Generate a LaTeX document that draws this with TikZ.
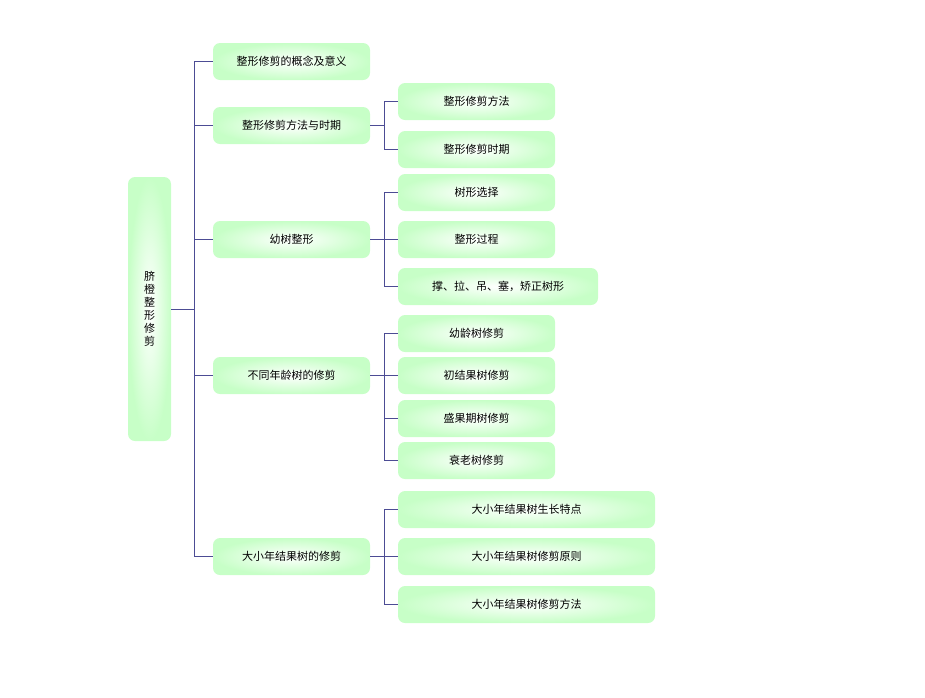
\documentclass[tikz,border=0pt]{standalone}
\usepackage{fontspec}
\setmainfont{Noto Sans CJK SC}
\begin{document}
\begin{tikzpicture}[x=1pt,y=-1pt,
  bx/.style={rounded corners=7pt,inner color=white,outer color=green!22,draw=none,font=\fontsize{11}{13}\selectfont},
  ln/.style={draw=blue!40!black!70,line width=0.6pt}]
\useasboundingbox (0,0) rectangle (925,697);
\newcommand\bx[6]{\shade[bx] (#2,#3) rectangle (#4,#5); \node[font=\fontsize{11}{13}\selectfont,align=center] (#1) at ({(#2+#4)/2},{(#3+#5)/2}) {#6};
 \coordinate (#1l) at (#2,{(#3+#5)/2}); \coordinate (#1r) at (#4,{(#3+#5)/2});}
\bx{r}{128}{177}{171}{441}{脐\\橙\\整\\形\\修\\剪}
\bx{a}{213}{43}{370}{80}{整形修剪的概念及意义}
\bx{b}{213}{107}{370}{144}{整形修剪方法与时期}
\bx{c}{213}{221}{370}{258}{幼树整形}
\bx{d}{213}{357}{370}{394}{不同年龄树的修剪}
\bx{e}{213}{538}{370}{575}{大小年结果树的修剪}
\bx{b1}{398}{83}{555}{120}{整形修剪方法}
\bx{b2}{398}{131}{555}{168}{整形修剪时期}
\bx{c1}{398}{174}{555}{211}{树形选择}
\bx{c2}{398}{221}{555}{258}{整形过程}
\bx{c3}{398}{268}{598}{305}{撑、拉、吊、塞，矫正树形}
\bx{d1}{398}{315}{555}{352}{幼龄树修剪}
\bx{d2}{398}{357}{555}{394}{初结果树修剪}
\bx{d3}{398}{400}{555}{437}{盛果期树修剪}
\bx{d4}{398}{442}{555}{479}{衰老树修剪}
\bx{e1}{398}{491}{655}{528}{大小年结果树生长特点}
\bx{e2}{398}{538}{655}{575}{大小年结果树修剪原则}
\bx{e3}{398}{586}{655}{623}{大小年结果树修剪方法}
\coordinate (rr) at (171,309);
\foreach \t in {a,b,c,d,e} \draw[ln] (rr) -| (194,0 |- \t l) -- (\t l);
\foreach \p/\list in {b/{b1,b2},c/{c1,c2,c3},d/{d1,d2,d3,d4},e/{e1,e2,e3}}
  \foreach \t in \list \draw[ln] (\p r) -| (384,0 |- \t l) -- (\t l);
\end{tikzpicture}
\end{document}
